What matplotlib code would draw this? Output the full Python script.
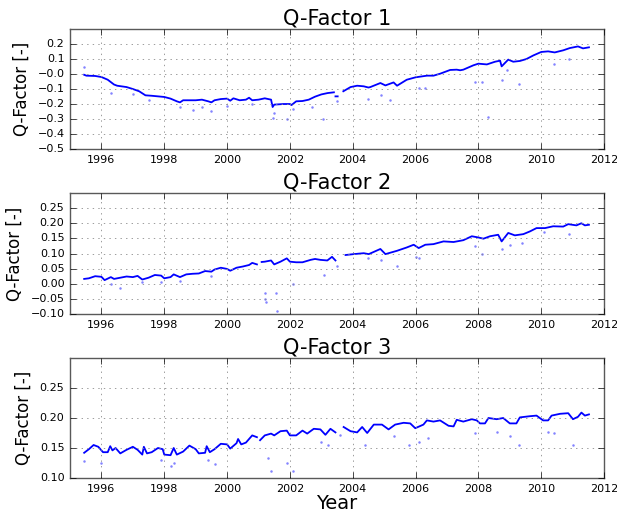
import numpy as np
import matplotlib
matplotlib.use("Agg")
import matplotlib.pyplot as plt

plt.style.use("classic")

nan = np.nan

# ---- Q-Factor 1 : main trace (decimal year, value) ----
q1_year = [1995.45, 1995.52, 1995.8, 1996.0, 1996.2, 1996.4, 1996.5, 1996.8, 1997.0, 1997.2,
           1997.4, 1997.6, 1997.8, 1998.0, 1998.2, 1998.4, 1998.5, 1998.6, 1998.8, 1999.0,
           1999.2, 1999.4, 1999.5, 1999.6, 1999.8, 2000.0, 2000.1, 2000.2, 2000.4, 2000.6,
           2000.7, 2000.8, 2001.0, 2001.2, 2001.4, 2001.45, 2001.5, 2001.8, 2002.0, 2002.05,
           2002.2, 2002.4, 2002.6, 2002.8, 2003.0, 2003.2, 2003.4, 2003.43, 2003.45, 2003.52,
           2003.56, 2003.7, 2003.93, 2004.14, 2004.35, 2004.5, 2004.56, 2004.88, 2005.04, 2005.3,
           2005.41, 2005.72, 2006.0, 2006.36, 2006.57, 2006.78, 2007.1, 2007.31, 2007.42, 2007.52,
           2007.84, 2008.0, 2008.27, 2008.53, 2008.69, 2008.74, 2008.95, 2009.11, 2009.32, 2009.53,
           2009.75, 2010.0, 2010.22, 2010.43, 2010.7, 2010.91, 2011.17, 2011.33, 2011.52]
q1_val = [-0.005, -0.011, -0.013, -0.020, -0.038, -0.070, -0.078, -0.087, -0.100, -0.115,
          -0.142, -0.145, -0.149, -0.153, -0.164, -0.182, -0.189, -0.175, -0.175, -0.175,
          -0.171, -0.182, -0.189, -0.175, -0.167, -0.164, -0.178, -0.162, -0.175, -0.171,
          -0.158, -0.175, -0.171, -0.162, -0.171, -0.220, -0.204, -0.200, -0.200, -0.207,
          -0.182, -0.180, -0.171, -0.151, -0.136, -0.127, -0.122, nan, -0.149, -0.149,
          nan, -0.115, -0.087, -0.078, -0.082, -0.090, -0.087, -0.060, -0.076, -0.056,
          -0.078, -0.038, -0.022, -0.011, -0.011, 0.002, 0.027, 0.029, 0.025, 0.029,
          0.058, 0.069, 0.064, 0.082, 0.089, 0.051, 0.096, 0.082, 0.087, 0.100,
          0.124, 0.147, 0.151, 0.144, 0.158, 0.173, 0.184, 0.171, 0.178]
q1_out_year = [1995.45, 1996.3, 1997.0, 1997.5, 1998.5, 1998.9, 1999.2, 1999.5, 2000.0, 2000.8,
               2001.45, 2001.5, 2001.9, 2002.1, 2002.7, 2003.05, 2003.5, 2004.5, 2004.9, 2005.2,
               2006.1, 2006.3, 2007.9, 2008.1, 2008.3, 2008.75, 2008.9, 2009.3, 2010.4, 2010.9]
q1_out_val = [0.050, -0.125, -0.130, -0.170, -0.220, -0.240, -0.220, -0.245, -0.215, -0.200,
              -0.290, -0.260, -0.300, -0.230, -0.220, -0.300, -0.180, -0.165, -0.140, -0.170,
              -0.090, -0.090, -0.050, -0.055, -0.285, -0.040, 0.030, -0.065, 0.070, 0.100]

# ---- Q-Factor 2 ----
q2_year = [1995.45, 1995.6, 1995.8, 1996.0, 1996.1, 1996.3, 1996.4, 1996.6, 1996.8, 1997.0,
           1997.15, 1997.3, 1997.5, 1997.7, 1997.9, 1998.0, 1998.2, 1998.3, 1998.5, 1998.7,
           1998.9, 1999.1, 1999.3, 1999.5, 1999.6, 1999.8, 2000.0, 2000.1, 2000.3, 2000.5,
           2000.7, 2000.8, 2000.95, 2001.0, 2001.1, 2001.2, 2001.4, 2001.5, 2001.7, 2001.9,
           2002.0, 2002.2, 2002.4, 2002.66, 2002.8, 2002.97, 2003.19, 2003.34, 2003.45, 2003.5,
           2003.77, 2004.03, 2004.35, 2004.51, 2004.88, 2005.04, 2005.41, 2005.72, 2005.94, 2006.1,
           2006.31, 2006.57, 2006.89, 2007.21, 2007.52, 2007.79, 2008.0, 2008.16, 2008.37, 2008.63,
           2008.74, 2008.95, 2009.16, 2009.43, 2009.64, 2009.85, 2010.12, 2010.38, 2010.7, 2010.86,
           2011.12, 2011.28, 2011.39, 2011.52]
q2_val = [0.016, 0.018, 0.025, 0.023, 0.012, 0.022, 0.016, 0.020, 0.024, 0.022,
          0.026, 0.014, 0.020, 0.029, 0.027, 0.018, 0.022, 0.031, 0.022, 0.031,
          0.033, 0.034, 0.042, 0.040, 0.047, 0.053, 0.049, 0.043, 0.053, 0.057,
          0.062, 0.069, 0.064, nan, 0.072, 0.073, 0.077, 0.064, 0.073, 0.084,
          0.073, 0.071, 0.071, 0.079, 0.082, 0.079, 0.077, 0.089, 0.077, nan,
          0.095, 0.098, 0.101, 0.098, 0.115, 0.098, 0.109, 0.120, 0.129, 0.118,
          0.129, 0.131, 0.140, 0.138, 0.144, 0.157, 0.153, 0.149, 0.157, 0.162,
          0.140, 0.168, 0.160, 0.164, 0.173, 0.184, 0.184, 0.190, 0.189, 0.197,
          0.193, 0.200, 0.193, 0.195]
q2_out_year = [1996.3, 1996.6, 1997.3, 1997.9, 1998.5, 1999.5, 2001.2, 2001.22, 2001.25, 2001.55,
               2001.6, 2002.1, 2003.1, 2003.5, 2004.5, 2004.9, 2005.4, 2006.0, 2006.1, 2007.9,
               2008.1, 2008.75, 2009.0, 2009.4, 2010.1, 2010.9]
q2_out_val = [0.000, -0.013, 0.005, 0.005, 0.010, 0.025, -0.030, -0.050, -0.060, -0.030,
              -0.090, 0.000, 0.030, 0.058, 0.085, 0.080, 0.060, 0.090, 0.085, 0.125,
              0.100, 0.115, 0.127, 0.135, 0.170, 0.165]

# ---- Q-Factor 3 ----
q3_year = [1995.45, 1995.6, 1995.75, 1995.9, 1996.05, 1996.2, 1996.28, 1996.35, 1996.45, 1996.6,
           1996.8, 1997.0, 1997.15, 1997.3, 1997.35, 1997.45, 1997.6, 1997.8, 1997.95, 1998.0,
           1998.2, 1998.3, 1998.4, 1998.6, 1998.8, 1999.0, 1999.1, 1999.3, 1999.35, 1999.45,
           1999.6, 1999.8, 2000.0, 2000.1, 2000.3, 2000.35, 2000.45, 2000.6, 2000.8, 2000.95,
           2001.0, 2001.05, 2001.2, 2001.4, 2001.5, 2001.7, 2001.9, 2002.0, 2002.2, 2002.4,
           2002.55, 2002.76, 2002.97, 2003.13, 2003.29, 2003.45, 2003.55, 2003.71, 2003.93, 2004.14,
           2004.3, 2004.46, 2004.67, 2004.93, 2005.14, 2005.35, 2005.62, 2005.83, 2005.99, 2006.25,
           2006.36, 2006.57, 2006.78, 2007.05, 2007.21, 2007.31, 2007.52, 2007.79, 2007.95, 2008.05,
           2008.21, 2008.32, 2008.58, 2008.79, 2009.0, 2009.21, 2009.32, 2009.64, 2009.85, 2010.06,
           2010.22, 2010.33, 2010.6, 2010.86, 2011.01, 2011.17, 2011.28, 2011.39, 2011.52]
q3_val = [0.142, 0.148, 0.155, 0.152, 0.143, 0.143, 0.153, 0.146, 0.150, 0.141,
          0.147, 0.152, 0.147, 0.139, 0.152, 0.141, 0.143, 0.150, 0.148, 0.139,
          0.138, 0.150, 0.139, 0.144, 0.154, 0.148, 0.141, 0.142, 0.153, 0.143,
          0.148, 0.157, 0.156, 0.149, 0.158, 0.165, 0.156, 0.159, 0.171, 0.168,
          nan, 0.163, 0.171, 0.174, 0.171, 0.178, 0.179, 0.171, 0.171, 0.179,
          0.174, 0.182, 0.181, 0.172, 0.182, 0.176, nan, 0.185, 0.178, 0.176,
          0.185, 0.175, 0.189, 0.189, 0.181, 0.189, 0.192, 0.191, 0.183, 0.189,
          0.196, 0.194, 0.196, 0.187, 0.186, 0.197, 0.194, 0.198, 0.196, 0.191,
          0.191, 0.200, 0.198, 0.200, 0.191, 0.191, 0.201, 0.203, 0.204, 0.196,
          0.196, 0.204, 0.207, 0.208, 0.198, 0.202, 0.209, 0.204, 0.206]
q3_out_year = [1995.45, 1996.0, 1997.9, 1998.2, 1998.3, 1999.4, 1999.6, 2001.3, 2001.4, 2001.9,
               2002.1, 2003.0, 2003.2, 2003.6, 2004.4, 2005.3, 2005.8, 2006.1, 2006.4, 2007.9,
               2008.6, 2009.0, 2009.3, 2010.2, 2010.4, 2011.0]
q3_out_val = [0.128, 0.125, 0.130, 0.120, 0.125, 0.130, 0.123, 0.133, 0.112, 0.125,
              0.112, 0.160, 0.155, 0.172, 0.155, 0.170, 0.155, 0.160, 0.167, 0.175,
              0.176, 0.170, 0.155, 0.177, 0.175, 0.155]

titles = ["Q-Factor 1", "Q-Factor 2", "Q-Factor 3"]
ylims = [(-0.5, 0.3), (-0.10, 0.30), (0.10, 0.30)]
yticks = [np.arange(-0.5, 0.25, 0.1), np.arange(-0.10, 0.26, 0.05), np.arange(0.10, 0.26, 0.05)]
yfmt = ["%.1f", "%.2f", "%.2f"]
xticks = list(range(1996, 2013, 2))

series = [(q1_year, q1_val, q1_out_year, q1_out_val),
          (q2_year, q2_val, q2_out_year, q2_out_val),
          (q3_year, q3_val, q3_out_year, q3_out_val)]

fig = plt.figure(figsize=(6.17, 5.11), dpi=100, facecolor="white")
boxes = [(0.1135, 0.7084, 0.8655, 0.2348),
         (0.1135, 0.3855, 0.8655, 0.2368),
         (0.1135, 0.0646, 0.8655, 0.2348)]

for i, (box, (yr, val, oyr, oval)) in enumerate(zip(boxes, series)):
    ax = fig.add_axes(box)
    ax.plot(oyr, oval, linestyle="none", marker="o", markersize=1.8,
            markeredgewidth=0, color="#5a5aff", alpha=0.75)
    ax.plot(yr, val, color="#0000ff", linewidth=1.3)
    ax.set_xlim(1995, 2012)
    ax.set_ylim(*ylims[i])
    ax.set_xticks(xticks)
    ax.set_xticklabels([str(t) for t in xticks], fontsize=8)
    ax.set_yticks(yticks[i])
    ax.set_yticklabels([(yfmt[i] % t).replace("-", "\u2212") for t in yticks[i]], fontsize=8)
    ax.grid(True, color="0.55", linestyle=":", linewidth=0.6)
    ax.set_title(titles[i], fontsize=15, pad=3)
    ax.set_ylabel("Q-Factor [-]", fontsize=12, labelpad=5)
    for sp in ax.spines.values():
        sp.set_color("0.35")

    if i == 2:
        ax.set_xlabel("Year", fontsize=14, labelpad=0)

fig.savefig("out.png", dpi=100, facecolor="white")
